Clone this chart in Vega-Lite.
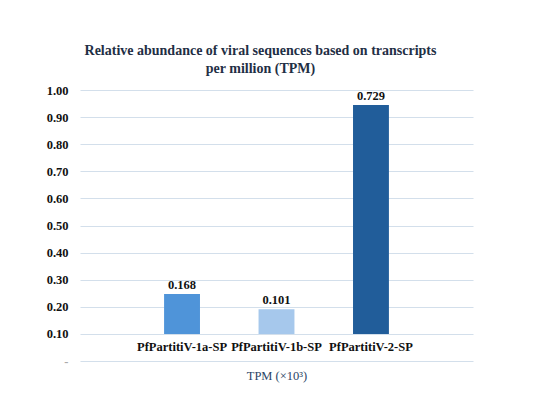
{
  "$schema": "https://vega.github.io/schema/vega-lite/v6.json",
  "width": 393,
  "height": 271,
  "autosize": "none",
  "padding": {"left": 80, "top": 90, "right": 77, "bottom": 52},
  "background": "white",
  "title": {
    "text": ["Relative abundance of viral sequences based on transcripts", "per million (TPM)"],
    "font": "Liberation Serif, Times New Roman, serif",
    "fontSize": 14,
    "fontWeight": "bold",
    "color": "#1f2f45",
    "lineHeight": 18,
    "anchor": "middle",
    "dx": -16,
    "offset": 8
  },
  "data": {
    "values": [
      {"virus": "PfPartitiV-1a-SP", "tpm": 0.247, "label": "0.168"},
      {"virus": "PfPartitiV-1b-SP", "tpm": 0.191, "label": "0.101"},
      {"virus": "PfPartitiV-2-SP", "tpm": 0.945, "label": "0.729"}
    ]
  },
  "encoding": {
    "x": {
      "field": "virus",
      "type": "nominal",
      "sort": null,
      "scale": {"paddingInner": 0.62, "paddingOuter": 0.89},
      "title": "TPM (×10³)",
      "axis": {
        "offset": -27,
        "domain": false,
        "ticks": false,
        "labelAngle": 0,
        "labelPadding": 6,
        "labelOverlap": false,
        "labelFont": "Liberation Serif, Times New Roman, serif",
        "labelFontSize": 12.5,
        "labelFontWeight": "bold",
        "labelColor": "#111111",
        "titleFont": "Liberation Serif, Times New Roman, serif",
        "titleFontSize": 12.5,
        "titleFontWeight": "normal",
        "titleColor": "#2d4566",
        "titlePadding": 17
      }
    },
    "y": {
      "field": "tpm",
      "type": "quantitative",
      "scale": {"domain": [0, 1]},
      "title": null,
      "axis": {
        "values": [0, 0.1, 0.2, 0.3, 0.4, 0.5, 0.6, 0.7, 0.8, 0.9, 1.0],
        "labelExpr": "datum.value == 0 ? '-' : format(datum.value, '.2f')",
        "labelOverlap": false,
        "domain": false,
        "ticks": false,
        "grid": true,
        "labelPadding": 12,
        "labelFont": "Liberation Serif, Times New Roman, serif",
        "labelFontSize": 12.5,
        "labelFontWeight": "bold",
        "labelColor": {"condition": {"test": "datum.value == 0", "value": "#aaaaaa"}, "value": "#111111"},
        "gridColor": "#d3dfeb",
        "gridWidth": 1.2
      }
    }
  },
  "layer": [
    {
      "mark": {"type": "bar"},
      "encoding": {
        "y2": {"datum": 0.1},
        "color": {
          "field": "virus",
          "type": "nominal",
          "scale": {
            "domain": ["PfPartitiV-1a-SP", "PfPartitiV-1b-SP", "PfPartitiV-2-SP"],
            "range": ["#4f94d9", "#a6c8ec", "#215d9a"]
          },
          "legend": null
        }
      }
    },
    {
      "mark": {
        "type": "text",
        "baseline": "bottom",
        "dy": -2,
        "font": "Liberation Serif, Times New Roman, serif",
        "fontSize": 12.5,
        "fontWeight": "bold",
        "color": "#111111"
      },
      "encoding": {
        "text": {"field": "label"}
      }
    }
  ],
  "config": {"view": {"stroke": null}}
}
